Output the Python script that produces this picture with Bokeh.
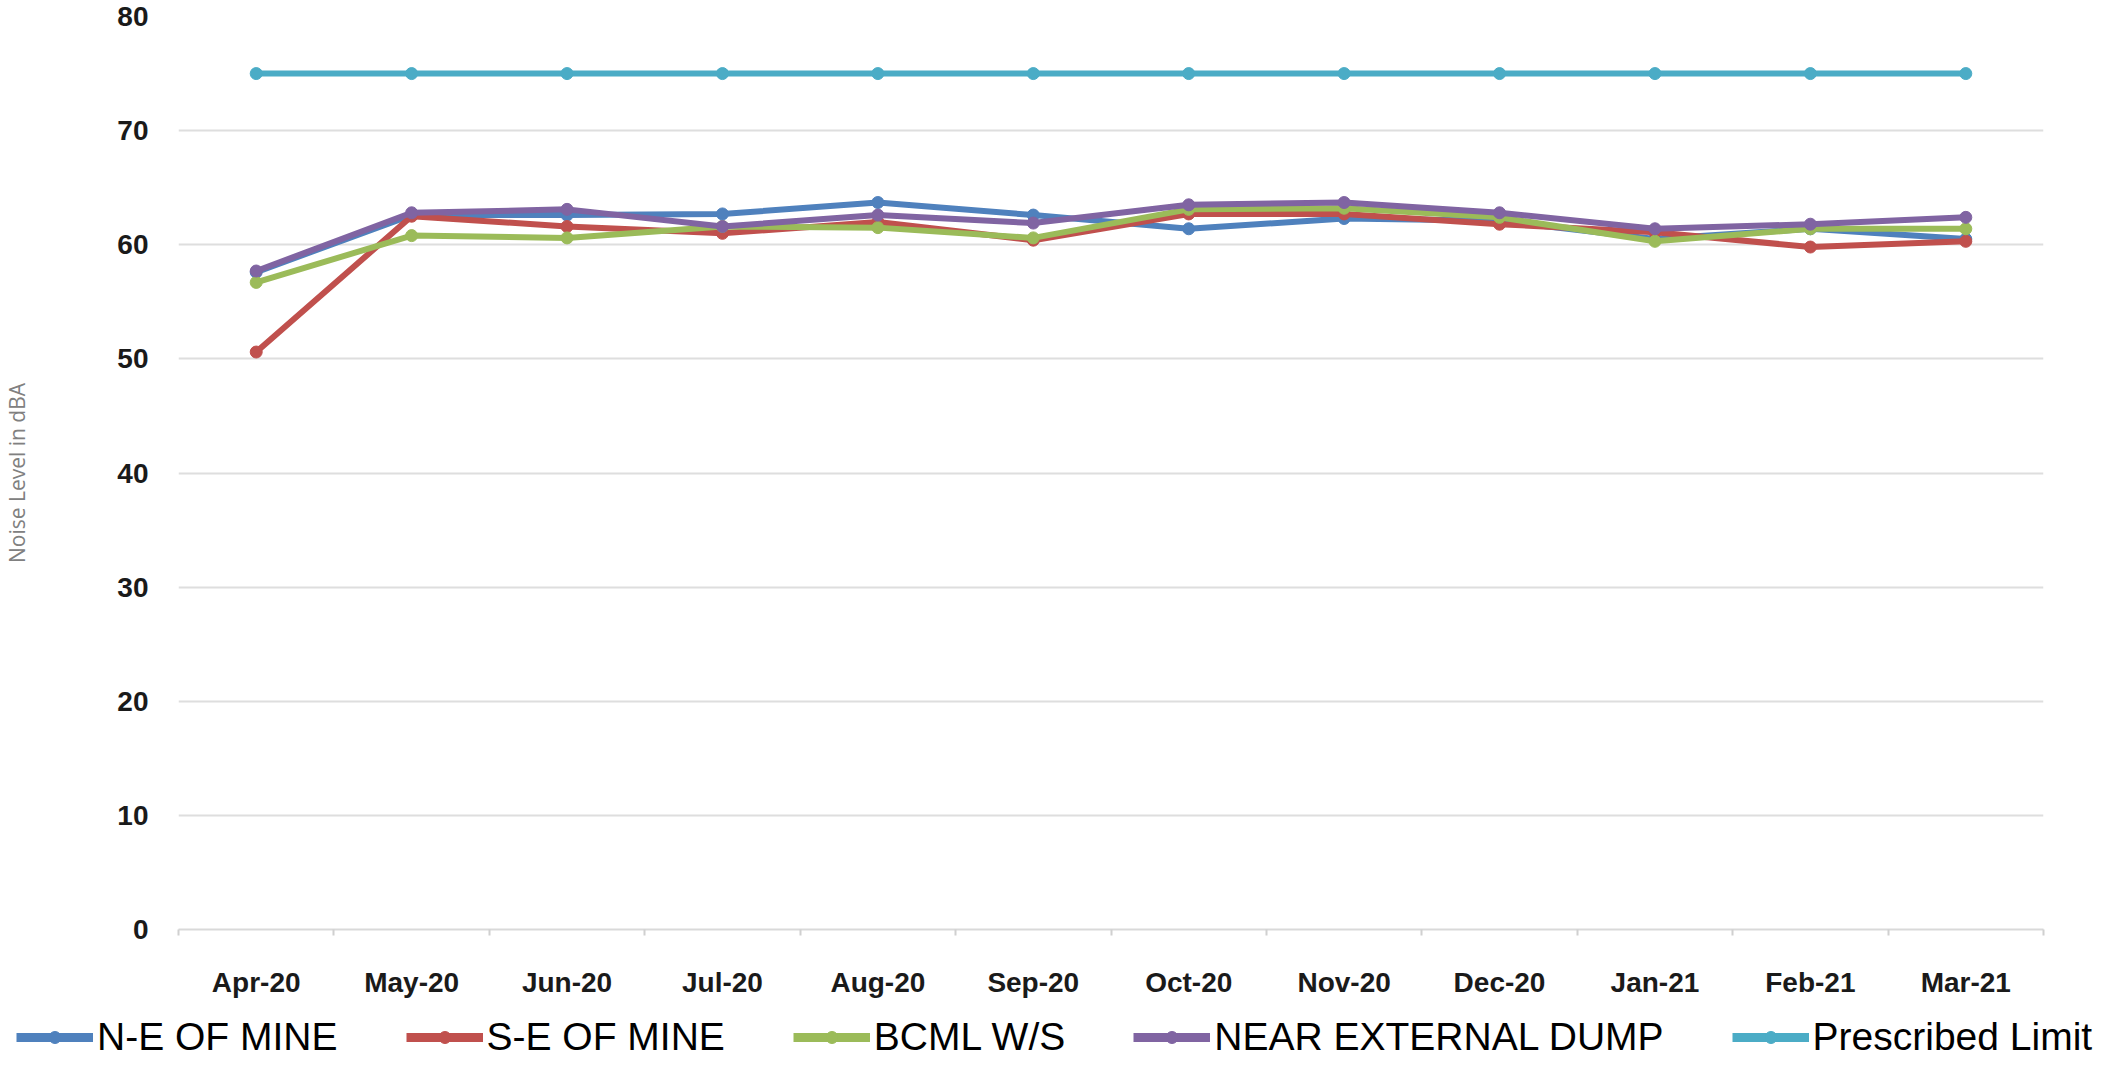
from bokeh.plotting import figure
from bokeh.models import Range1d, FixedTicker, Legend, LegendItem
from bokeh.embed import file_html
from bokeh.resources import INLINE

months = ["Apr-20", "May-20", "Jun-20", "Jul-20", "Aug-20", "Sep-20",
          "Oct-20", "Nov-20", "Dec-20", "Jan-21", "Feb-21", "Mar-21"]
ne_of_mine = [57.6, 62.6, 62.6, 62.7, 63.7, 62.6, 61.4, 62.3, 62.1, 60.5, 61.4, 60.5]
se_of_mine = [50.6, 62.5, 61.6, 61.0, 62.0, 60.4, 62.7, 62.7, 61.8, 61.1, 59.8, 60.3]
bcml_ws = [56.7, 60.8, 60.6, 61.6, 61.5, 60.6, 63.1, 63.2, 62.4, 60.3, 61.4, 61.4]
near_dump = [57.7, 62.8, 63.1, 61.6, 62.6, 61.9, 63.5, 63.7, 62.8, 61.4, 61.8, 62.4]
prescribed = [75, 75, 75, 75, 75, 75, 75, 75, 75, 75, 75, 75]
y_ticks = [0, 10, 20, 30, 40, 50, 60, 70, 80]

series = [
    ("N-E OF MINE", ne_of_mine, "#4F81BD"),
    ("S-E OF MINE", se_of_mine, "#C0504D"),
    ("BCML W/S", bcml_ws, "#9BBB59"),
    ("NEAR EXTERNAL DUMP", near_dump, "#8064A2"),
    ("Prescribed Limit", prescribed, "#4BACC6"),
]

xs = [i + 0.5 for i in range(len(months))]

FONT = "Liberation Sans"

p = figure(width=2102, height=1000, output_backend="svg", toolbar_location=None,
           x_range=Range1d(0, len(months)), y_range=Range1d(0, 80),
           min_border_left=169, min_border_right=59, min_border_top=16,
           min_border_bottom=68)
p.outline_line_color = None
p.background_fill_color = "white"
p.border_fill_color = "white"

# x axis
p.xaxis.ticker = FixedTicker(ticks=xs, minor_ticks=list(range(len(months) + 1)))
p.xaxis.major_label_overrides = {x: m for x, m in zip(xs, months)}
p.xaxis.major_tick_line_color = None
p.xaxis.major_tick_out = 0
p.xaxis.major_tick_in = 0
p.xaxis.minor_tick_out = 6
p.xaxis.minor_tick_in = 0
p.xaxis.minor_tick_line_color = "#d0d0d0"
p.xaxis.minor_tick_line_width = 2
p.xaxis.axis_line_color = "#d9d9d9"
p.xaxis.axis_line_width = 2
p.xaxis.major_label_standoff = 31
p.xaxis.major_label_text_font = FONT
p.xaxis.major_label_text_font_style = "bold"
p.xaxis.major_label_text_font_size = "28px"
p.xaxis.major_label_text_color = "#1a1a1a"

# y axis
p.yaxis.ticker = FixedTicker(ticks=y_ticks)
p.yaxis.axis_line_color = None
p.yaxis.major_tick_line_color = None
p.yaxis.minor_tick_line_color = None
p.yaxis.major_tick_out = 0
p.yaxis.major_tick_in = 0
p.yaxis.major_label_standoff = 30
p.yaxis.major_label_text_font = FONT
p.yaxis.major_label_text_font_style = "bold"
p.yaxis.major_label_text_font_size = "28px"
p.yaxis.major_label_text_color = "#1a1a1a"
p.yaxis.axis_label = "Noise Level in dBA"
p.yaxis.axis_label_text_font = "Open Sans"
p.yaxis.axis_label_text_font_style = "normal"
p.yaxis.axis_label_text_font_size = "21px"
p.yaxis.axis_label_text_color = "#808080"
p.yaxis.axis_label_standoff = 83

p.xgrid.grid_line_color = None
p.ygrid.ticker = FixedTicker(ticks=y_ticks)
p.ygrid.grid_line_color = "#dedede"
p.ygrid.grid_line_width = 2

for name, vals, color in series:
    p.line(xs, vals, line_color=color, line_width=6)
    p.scatter(xs, vals, marker="circle", size=12, fill_color=color, line_color=color)

# legend strip below the chart (separate root so its frame spans the full width)
lg = figure(width=2102, height=60, output_backend="svg", toolbar_location=None,
            x_range=Range1d(0, 1), y_range=Range1d(0, 1),
            x_axis_type=None, y_axis_type=None,
            min_border_left=0, min_border_right=0, min_border_top=0, min_border_bottom=0)
lg.outline_line_color = None
lg.xgrid.visible = False
lg.ygrid.visible = False
lg.background_fill_color = "white"
lg.border_fill_color = "white"

items = []
for name, vals, color in series:
    lr = lg.line([-10, -9], [-10, -10], line_color=color, line_width=9)
    sr = lg.scatter([-10], [-10], marker="circle", size=14, fill_color=color, line_color=color)
    items.append(LegendItem(label=name, renderers=[lr, sr]))

legend = Legend(items=items, orientation="horizontal", location=(16, 1),
                padding=0, margin=0, spacing=68, glyph_width=77, glyph_height=30,
                label_standoff=4, border_line_color=None, background_fill_alpha=0,
                label_text_font=FONT, label_text_font_size="39px",
                label_text_color="#000000")
lg.add_layout(legend, "center")

open("out.html", "w").write(file_html([p, lg], INLINE))
